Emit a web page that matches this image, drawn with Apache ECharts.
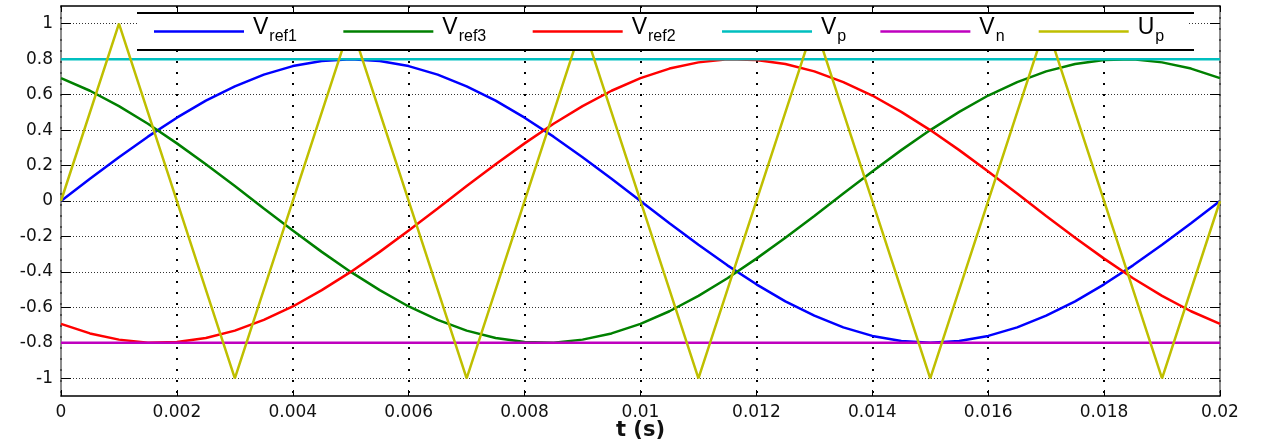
<!DOCTYPE html>
<html>
<head>
<meta charset="utf-8">
<title>Vref / Vp / Vn / Up</title>
<script src="https://cdn.jsdelivr.net/npm/echarts@6/dist/echarts.min.js"></script>
<style>
  html,body{margin:0;padding:0;background:#fff;}
  #main{width:1265px;height:443px;}
</style>
</head>
<body>
<div id="main"></div>
<script>
  // 时间 (s)
  var tList = [0, 0.0005, 0.001, 0.0015, 0.002, 0.0025, 0.003, 0.0035, 0.004, 0.0045,
    0.005, 0.0055, 0.006, 0.0065, 0.007, 0.0075, 0.008, 0.0085, 0.009, 0.0095,
    0.01, 0.0105, 0.011, 0.0115, 0.012, 0.0125, 0.013, 0.0135, 0.014, 0.0145,
    0.015, 0.0155, 0.016, 0.0165, 0.017, 0.0175, 0.018, 0.0185, 0.019, 0.0195, 0.02];

  var vref1 = [0, 0.125, 0.247, 0.363, 0.470, 0.566, 0.647, 0.713, 0.761, 0.790,
    0.8, 0.790, 0.761, 0.713, 0.647, 0.566, 0.470, 0.363, 0.247, 0.125,
    0, -0.125, -0.247, -0.363, -0.470, -0.566, -0.647, -0.713, -0.761, -0.790,
    -0.8, -0.790, -0.761, -0.713, -0.647, -0.566, -0.470, -0.363, -0.247, -0.125, 0];

  var vref2 = [-0.693, -0.747, -0.782, -0.799, -0.796, -0.773, -0.731, -0.671, -0.595, -0.503,
    -0.4, -0.287, -0.166, -0.042, 0.084, 0.207, 0.325, 0.436, 0.535, 0.622,
    0.693, 0.747, 0.782, 0.799, 0.796, 0.773, 0.731, 0.671, 0.595, 0.503,
    0.4, 0.287, 0.166, 0.042, -0.084, -0.207, -0.325, -0.436, -0.535, -0.622, -0.693];

  var vref3 = [0.693, 0.622, 0.535, 0.436, 0.325, 0.207, 0.084, -0.042, -0.166, -0.287,
    -0.4, -0.503, -0.595, -0.671, -0.731, -0.773, -0.796, -0.799, -0.782, -0.747,
    -0.693, -0.622, -0.535, -0.436, -0.325, -0.207, -0.084, 0.042, 0.166, 0.287,
    0.4, 0.503, 0.595, 0.671, 0.731, 0.773, 0.796, 0.799, 0.782, 0.747, 0.693];

  // Vp / Vn 常数
  var levelT = [0, 0.02];
  var vpLevel = [0.8, 0.8];
  var vnLevel = [-0.8, -0.8];

  // Up 三角载波
  var upT = [0, 0.001, 0.003, 0.005, 0.007, 0.009, 0.011, 0.013, 0.015, 0.017, 0.019, 0.02];
  var upV = [0, 1, -1, 1, -1, 1, -1, 1, -1, 1, -1, 0];

  var yTicks = [-1, -0.8, -0.6, -0.4, -0.2, 0, 0.2, 0.4, 0.6, 0.8, 1];

  var legendSub = {Vref1: 'ref1', Vref3: 'ref3', Vref2: 'ref2', Vp: 'p', Vn: 'n', Up: 'p'};

  function pairs(xs, ys) {
    return xs.map(function (x, i) { return [x, ys[i]]; });
  }

  function lineSeries(name, color, xs, ys) {
    return {
      name: name,
      type: 'line',
      showSymbol: false,
      symbol: 'none',
      silent: true,
      itemStyle: {color: color},
      lineStyle: {color: color, width: 2.5},
      emphasis: {disabled: true},
      data: pairs(xs, ys)
    };
  }

  var labelFont = {fontFamily: 'DejaVu Sans', fontSize: 17, color: '#111'};

  var chart = echarts.init(document.getElementById('main'));

  var option = {
    animation: false,
    grid: {left: 61, right: 45, top: 6, bottom: 47, containLabel: false, outerBoundsMode: 'none'},
    legend: {
      left: 137,
      top: 13,
      padding: [3, 14, 4, 17],
      backgroundColor: '#fff',
      icon: 'rect',
      itemWidth: 90,
      itemHeight: 2.5,
      itemGap: 25,
      selectedMode: false,
      data: ['Vref1', 'Vref3', 'Vref2', 'Vp', 'Vn', 'Up'],
      formatter: function (name) {
        var sub = legendSub[name];
        return '{m|' + name.charAt(0) + '}' + (sub.length > 1 ? '{r|' + sub + '}' : '{s|' + sub + '}');
      },
      textStyle: {
        color: '#000',
        rich: {
          m: {fontFamily: 'Liberation Sans', fontSize: 23, lineHeight: 23, padding: [0, 0, 8, 4], color: '#000'},
          r: {fontFamily: 'Liberation Sans', fontSize: 16, lineHeight: 16, padding: [10, 0, 0, 1], width: 49, color: '#000'},
          s: {fontFamily: 'Liberation Sans', fontSize: 16, lineHeight: 16, padding: [10, 0, 0, 1], width: 18, color: '#000'}
        }
      }
    },
    graphic: [
      {type: 'line', z: 100, shape: {x1: 137, y1: 13, x2: 1194, y2: 13}, style: {stroke: '#000', lineWidth: 2}},
      {type: 'line', z: 100, shape: {x1: 137, y1: 50, x2: 1194, y2: 50}, style: {stroke: '#000', lineWidth: 2}}
    ],
    xAxis: [
      {
        type: 'value',
        min: 0,
        max: 0.02,
        interval: 0.002,
        name: 't (s)',
        nameLocation: 'middle',
        nameGap: 24,
        nameMoveOverlap: false,
        nameTextStyle: {fontFamily: 'DejaVu Sans', fontSize: 21, fontWeight: 'bold', color: '#111'},
        axisLine: {show: true, onZero: false, lineStyle: {color: '#000', width: 1.5}},
        axisTick: {show: true, inside: true, length: 6, lineStyle: {color: '#000'}},
        axisLabel: Object.assign({margin: 8}, labelFont),
        splitLine: {show: true, lineStyle: {color: '#000', width: 2, type: [2, 9]}}
      },
      {
        type: 'value',
        position: 'top',
        min: 0,
        max: 0.02,
        interval: 0.002,
        axisLine: {show: true, onZero: false, lineStyle: {color: '#000', width: 1.5}},
        axisTick: {show: true, inside: true, length: 6, lineStyle: {color: '#000'}},
        axisLabel: {show: false},
        splitLine: {show: false}
      }
    ],
    yAxis: [
      {
        type: 'value',
        min: -1.1,
        max: 1.1,
        axisLine: {show: true, onZero: false, lineStyle: {color: '#666', width: 1.5}},
        axisTick: {show: true, inside: true, length: 10, customValues: yTicks, lineStyle: {color: '#000'}},
        axisLabel: Object.assign({margin: 8, customValues: yTicks}, labelFont),
        splitLine: {show: true, lineStyle: {color: '#333', width: 1, type: [1, 2]}}
      },
      {
        type: 'value',
        position: 'right',
        min: -1.1,
        max: 1.1,
        axisLine: {show: true, onZero: false, lineStyle: {color: '#666', width: 1.5}},
        axisTick: {show: true, inside: true, length: 10, customValues: yTicks, lineStyle: {color: '#000'}},
        axisLabel: {show: false},
        splitLine: {show: false}
      }
    ],
    series: [
      lineSeries('Vref1', '#0000ff', tList, vref1),
      lineSeries('Vref3', '#008000', tList, vref3),
      lineSeries('Vref2', '#ff0000', tList, vref2),
      lineSeries('Vp', '#00bfbf', levelT, vpLevel),
      lineSeries('Vn', '#bf00bf', levelT, vnLevel),
      lineSeries('Up', '#bfbf00', upT, upV)
    ]
  };

  option && chart.setOption(option);
</script>
</body>
</html>
